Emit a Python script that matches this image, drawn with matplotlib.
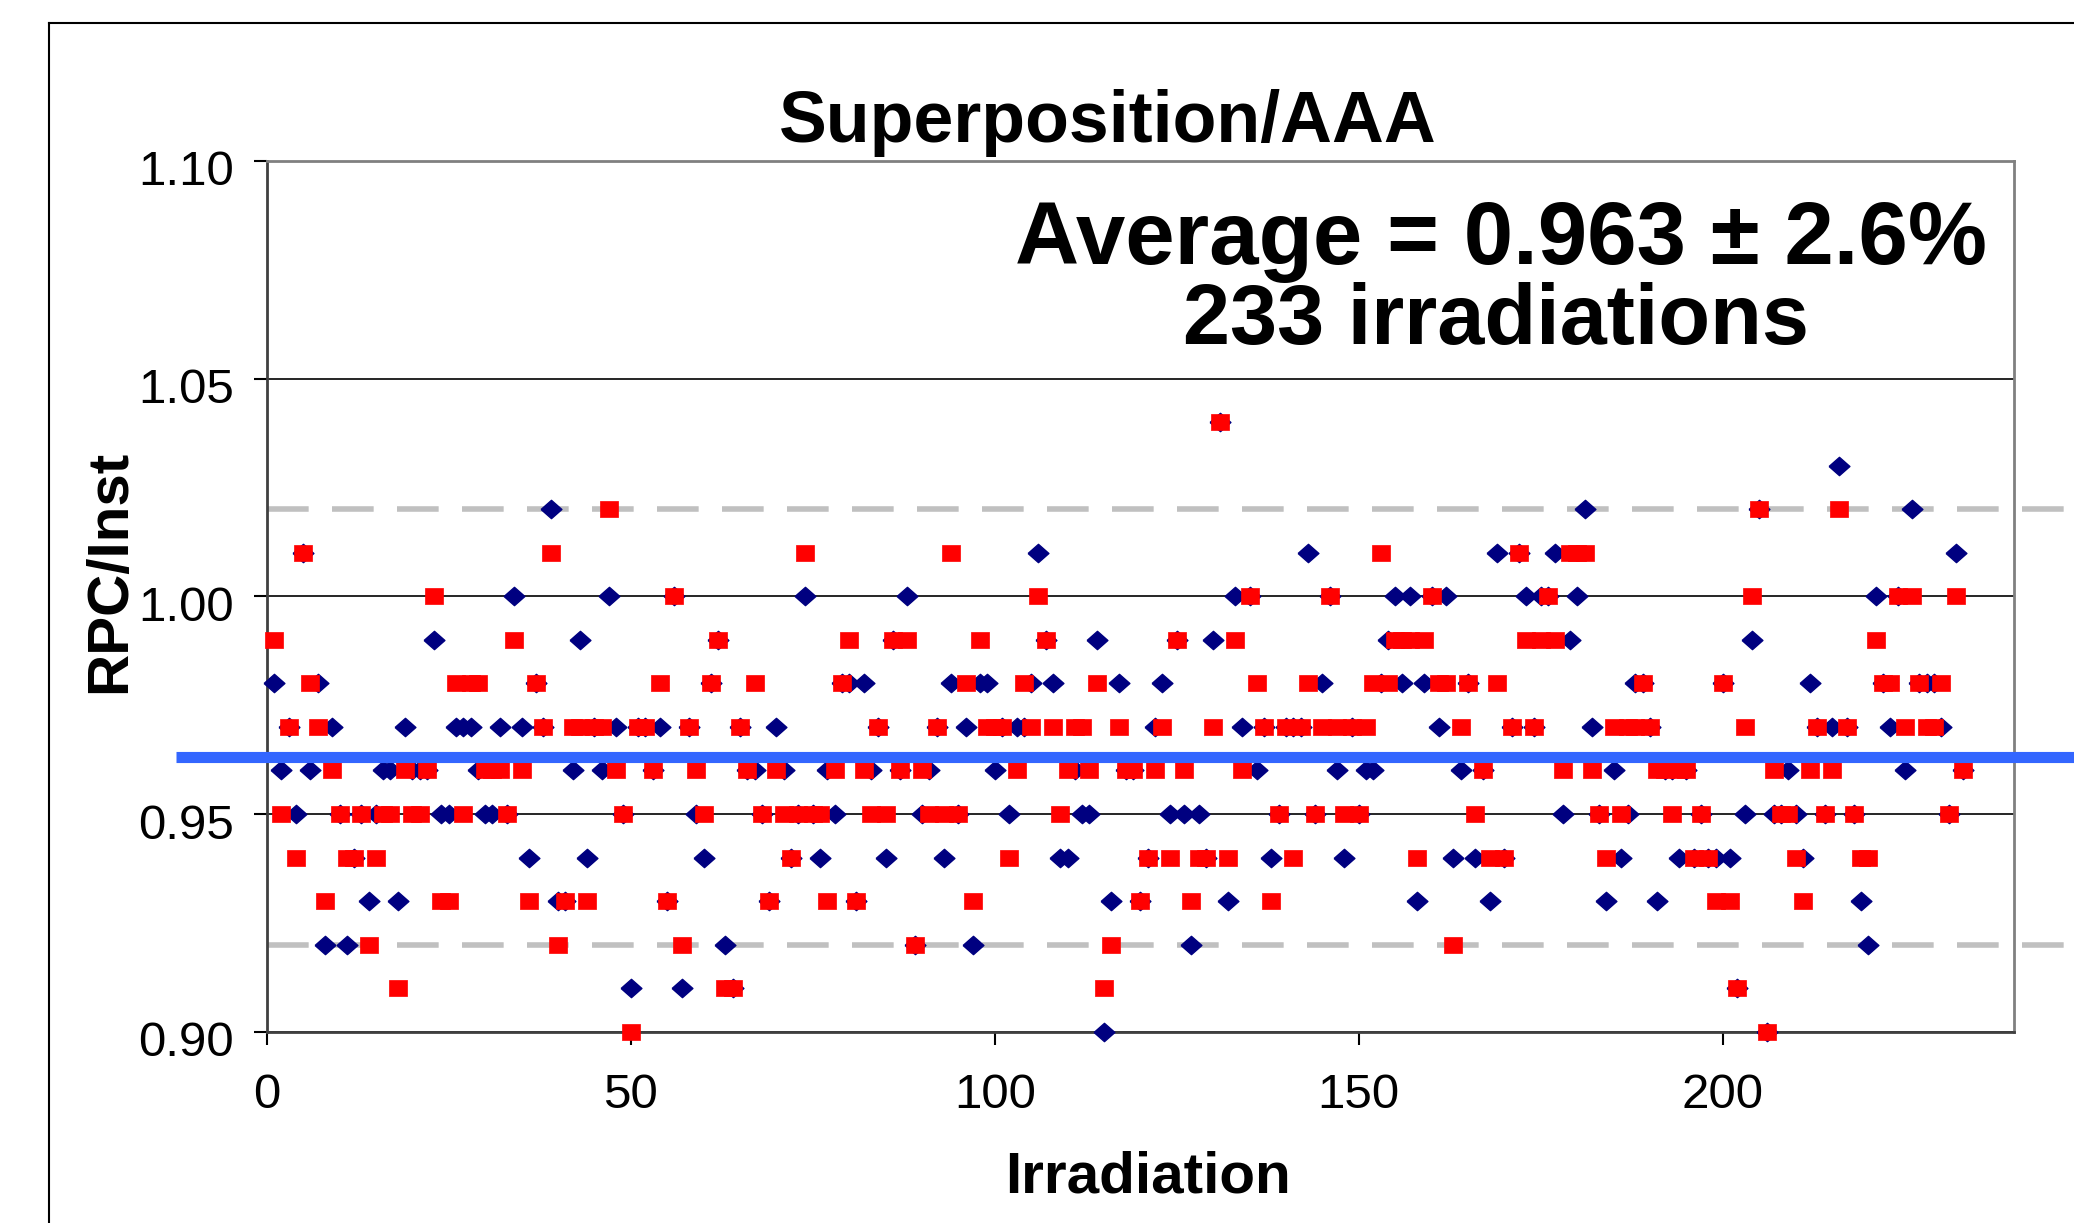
import numpy as np
import matplotlib
matplotlib.use("Agg")
import matplotlib.pyplot as plt
import matplotlib.transforms as mtransforms
from matplotlib.lines import Line2D

plt.rcParams['font.family'] = ['Liberation Sans', 'DejaVu Sans']

# RPC/Inst ratio per irradiation (blue diamonds, red squares)
blue_vals = [
    0.98, 0.96, 0.97, 0.95, 1.01, 0.96, 0.98, 0.92, 0.97, 0.95,
    0.92, 0.94, 0.95, 0.93, 0.95, 0.96, 0.96, 0.93, 0.97, 0.96,
    0.96, 0.96, 0.99, 0.95, 0.95, 0.97, 0.97, 0.97, 0.96, 0.95,
    0.95, 0.97, 0.95, 1.00, 0.97, 0.94, 0.98, 0.97, 1.02, 0.93,
    0.93, 0.96, 0.99, 0.94, 0.97, 0.96, 1.00, 0.97, 0.95, 0.91,
    0.97, 0.97, 0.96, 0.97, 0.93, 1.00, 0.91, 0.97, 0.95, 0.94,
    0.98, 0.99, 0.92, 0.91, 0.97, 0.96, 0.96, 0.95, 0.93, 0.97,
    0.96, 0.94, 0.95, 1.00, 0.95, 0.94, 0.96, 0.95, 0.98, 0.98,
    0.93, 0.98, 0.96, 0.97, 0.94, 0.99, 0.96, 1.00, 0.92, 0.95,
    0.96, 0.97, 0.94, 0.98, 0.95, 0.97, 0.92, 0.98, 0.98, 0.96,
    0.97, 0.95, 0.97, 0.97, 0.98, 1.01, 0.99, 0.98, 0.94, 0.94,
    0.96, 0.95, 0.95, 0.99, 0.90, 0.93, 0.98, 0.96, 0.96, 0.93,
    0.94, 0.97, 0.98, 0.95, 0.99, 0.95, 0.92, 0.95, 0.94, 0.99,
    1.04, 0.93, 1.00, 0.97, 1.00, 0.96, 0.97, 0.94, 0.95, 0.97,
    0.97, 0.97, 1.01, 0.95, 0.98, 1.00, 0.96, 0.94, 0.97, 0.95,
    0.96, 0.96, 0.98, 0.99, 1.00, 0.98, 1.00, 0.93, 0.98, 1.00,
    0.97, 1.00, 0.94, 0.96, 0.98, 0.94, 0.96, 0.93, 1.01, 0.94,
    0.97, 1.01, 1.00, 0.97, 1.00, 1.00, 1.01, 0.95, 0.99, 1.00,
    1.02, 0.97, 0.95, 0.93, 0.96, 0.94, 0.95, 0.98, 0.98, 0.97,
    0.93, 0.96, 0.96, 0.94, 0.96, 0.94, 0.95, 0.94, 0.94, 0.98,
    0.94, 0.91, 0.95, 0.99, 1.02, 0.90, 0.95, 0.95, 0.96, 0.95,
    0.94, 0.98, 0.97, 0.95, 0.97, 1.03, 0.97, 0.95, 0.93, 0.92,
    1.00, 0.98, 0.97, 1.00, 0.96, 1.02, 0.98, 0.98, 0.98, 0.97,
    0.95, 1.01, 0.96,
]
red_vals = [
    0.99, 0.95, 0.97, 0.94, 1.01, 0.98, 0.97, 0.93, 0.96, 0.95,
    0.94, 0.94, 0.95, 0.92, 0.94, 0.95, 0.95, 0.91, 0.96, 0.95,
    0.95, 0.96, 1.00, 0.93, 0.93, 0.98, 0.95, 0.98, 0.98, 0.96,
    0.96, 0.96, 0.95, 0.99, 0.96, 0.93, 0.98, 0.97, 1.01, 0.92,
    0.93, 0.97, 0.97, 0.93, 0.97, 0.97, 1.02, 0.96, 0.95, 0.90,
    0.97, 0.97, 0.96, 0.98, 0.93, 1.00, 0.92, 0.97, 0.96, 0.95,
    0.98, 0.99, 0.91, 0.91, 0.97, 0.96, 0.98, 0.95, 0.93, 0.96,
    0.95, 0.94, 0.95, 1.01, 0.95, 0.95, 0.93, 0.96, 0.98, 0.99,
    0.93, 0.96, 0.95, 0.97, 0.95, 0.99, 0.96, 0.99, 0.92, 0.96,
    0.95, 0.97, 0.95, 1.01, 0.95, 0.98, 0.93, 0.99, 0.97, 0.97,
    0.97, 0.94, 0.96, 0.98, 0.97, 1.00, 0.99, 0.97, 0.95, 0.96,
    0.97, 0.97, 0.96, 0.98, 0.91, 0.92, 0.97, 0.96, 0.96, 0.93,
    0.94, 0.96, 0.97, 0.94, 0.99, 0.96, 0.93, 0.94, 0.94, 0.97,
    1.04, 0.94, 0.99, 0.96, 1.00, 0.98, 0.97, 0.93, 0.95, 0.97,
    0.94, 0.97, 0.98, 0.95, 0.97, 1.00, 0.97, 0.95, 0.97, 0.95,
    0.97, 0.98, 1.01, 0.98, 0.99, 0.99, 0.99, 0.94, 0.99, 1.00,
    0.98, 0.98, 0.92, 0.97, 0.98, 0.95, 0.96, 0.94, 0.98, 0.94,
    0.97, 1.01, 0.99, 0.97, 0.99, 1.00, 0.99, 0.96, 1.01, 1.01,
    1.01, 0.96, 0.95, 0.94, 0.97, 0.95, 0.97, 0.97, 0.98, 0.97,
    0.96, 0.96, 0.95, 0.96, 0.96, 0.94, 0.95, 0.94, 0.93, 0.98,
    0.93, 0.91, 0.97, 1.00, 1.02, 0.90, 0.96, 0.95, 0.95, 0.94,
    0.93, 0.96, 0.97, 0.95, 0.96, 1.02, 0.97, 0.95, 0.94, 0.94,
    0.99, 0.98, 0.98, 1.00, 0.97, 1.00, 0.98, 0.97, 0.97, 0.98,
    0.95, 1.00, 0.96,
]
irradiation = np.arange(1, len(blue_vals) + 1)

avg_value = 0.963
band_hi = 1.02
band_lo = 0.92
x_ticks = [0, 50, 100, 150, 200]
y_ticks = [0.90, 0.95, 1.00, 1.05, 1.10]

fig = plt.figure(figsize=(20.74, 12.23), dpi=100)

# outer chart border (only top and left edges visible in the picture)
fig.add_artist(Line2D([0.0236, 1.0], [0.9816, 0.9816], color='black', lw=1.5))
fig.add_artist(Line2D([0.0236, 0.0236], [0.0, 0.9816], color='black', lw=1.5))

ax = fig.add_axes([0.1286, 0.1564, 0.8425, 0.712])

diamond = [(-1, 0), (0, 0.88), (1, 0), (0, -0.88), (-1, 0)]
square = [(-1, -0.88), (1, -0.88), (1, 0.88), (-1, 0.88), (-1, -0.88)]

ax.plot(irradiation, blue_vals, ls='none', marker=diamond, ms=15,
        color='#000080', mec='#000080', zorder=3, clip_on=False)
ax.plot(irradiation, red_vals, ls='none', marker=square, ms=12.8,
        color='#ff0000', mec='#ff0000', mew=0.5, zorder=3.5, clip_on=False)

# average line and +/- band, running past the plot frame like the drawn shapes
ax.plot([-12.5, 260], [avg_value, avg_value], color='#3366ff', lw=8,
        solid_capstyle='butt', clip_on=False, zorder=5)
for yv in (band_hi, band_lo):
    ax.plot([0, 260], [yv, yv], color='#c0c0c0', lw=4, ls=(0, (7.5, 4.2)),
            clip_on=False, zorder=2)

ax.set_xlim(0, 240)
ax.set_ylim(0.90, 1.10)
ax.set_xticks(x_ticks)
ax.set_yticks(y_ticks)
ax.set_yticklabels([f"{v:.2f}" for v in y_ticks])
ax.yaxis.grid(True, color='black', lw=1.2)
ax.set_axisbelow(True)
ax.tick_params(axis='both', direction='out', length=9.5, width=1.5,
               labelsize=35.5, colors='black')
ax.tick_params(axis='y', pad=14)
ax.tick_params(axis='x', pad=20)
shift = mtransforms.ScaledTranslation(0, -0.07, fig.dpi_scale_trans)
for lab in ax.get_yticklabels():
    lab.set_transform(lab.get_transform() + shift)
for side in ('left', 'bottom'):
    ax.spines[side].set_color('#404040')
    ax.spines[side].set_linewidth(2)
for side in ('right', 'top'):
    ax.spines[side].set_color('#808080')
    ax.spines[side].set_linewidth(2)

fig.text(0.534, 0.8997, 'Superposition/AAA', ha='center', va='center',
         fontsize=51.7, fontweight='bold')
fig.text(0.7237, 0.8026, 'Average = 0.963 \u00b1 2.6%', ha='center', va='center',
         fontsize=64, fontweight='bold')
fig.text(0.7213, 0.7368, '233 irradiations', ha='center', va='center',
         fontsize=61, fontweight='bold')
fig.text(0.053, 0.533, 'RPC/Inst', ha='center', va='center', rotation=90,
         fontsize=42, fontweight='bold')
fig.text(0.5536, 0.0368, 'Irradiation', ha='center', va='center',
         fontsize=42, fontweight='bold')

fig.savefig('out.png', dpi=100)
